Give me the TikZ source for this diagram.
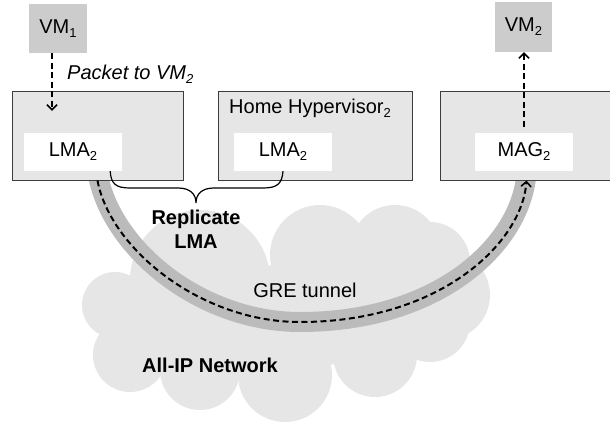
\documentclass[tikz,border=0pt]{standalone}
\usepackage{fontspec}
\setmainfont{Liberation Sans}
\usetikzlibrary{arrows.meta}
\definecolor{cloudgray}{HTML}{E6E6E6}
\definecolor{boxgray}{HTML}{E6E6E6}
\definecolor{vmgray}{HTML}{CCCCCC}
\definecolor{bandgray}{HTML}{BBBBBB}
\definecolor{bordergray}{HTML}{3C3C3C}
\newcommand\mysub[1]{\raisebox{-4pt}{\fontsize{13}{13}\selectfont #1}}
\pgfdeclarelayer{bg}
\pgfsetlayers{bg,main}
\begin{document}
\begin{tikzpicture}[x=1pt,y=-1pt,
  font=\fontsize{20}{24}\selectfont,
  hvbox/.style={draw=bordergray, line width=1pt, fill=boxgray, inner sep=0pt, minimum height=89pt},
  wbox/.style={fill=white, inner sep=0pt, minimum width=98pt, minimum height=38pt},
  vmbox/.style={fill=vmgray, inner sep=0pt},
  flow/.style={line width=2pt, dash pattern=on 6pt off 3.5pt, -{Straight Barb[length=5pt,width=10pt,line width=1.6pt]}},
  bandline/.style={line width=20pt, draw=bandgray},
  bracepath/.style={line width=1.2pt},
  lbl/.style={inner sep=0pt}]
\useasboundingbox (0,0) rectangle (610,423);
% boxes
\node[hvbox, minimum width=171pt] (hv1) at (97.5,135.5) {};
\node[hvbox, minimum width=194pt] (hv2) at (315,135.5) {};
\node[hvbox, minimum width=175pt] (hv3) at (527.5,135.5) {};
\node[wbox] (lma1) at (73,152) {LMA\mysub{2}};
\node[wbox] (lma2) at (283,152) {LMA\mysub{2}};
\node[wbox] (mag) at (524,152) {MAG\mysub{2}};
\node[vmbox, minimum width=58pt, minimum height=49pt] (vm1) at (58,28.5) {VM\mysub{1}};
\node[vmbox, minimum width=57pt, minimum height=50pt] (vm2) at (523.5,27) {VM\mysub{2}};
\node[lbl, anchor=west] (home) at (229,108) {Home Hypervisor\mysub{2}};
\node[lbl, anchor=west] (pkt) at (67,74) {\itshape Packet to VM\mysub{2}};
\coordinate (ts) at ([xshift=86pt]hv1.south west);
\coordinate (te) at ([xshift=87pt]hv3.south west);
% cloud and tunnel band behind the boxes
\begin{pgfonlayer}{bg}
\foreach \cx/\cy/\r in {115/305/33, 130/355/37, 200/370/40, 285/375/47, 375/355/42,
  430/322/40, 445/295/45, 430/262/40, 395/250/45, 320/255/50, 200/280/70}
  \fill[cloudgray] (\cx,\cy) circle (\r);
\fill[cloudgray] (115,305) -- (130,355) -- (200,370) -- (285,375) -- (375,355) -- (430,322)
  -- (445,295) -- (430,262) -- (395,250) -- (320,255) -- (200,280) -- cycle;
\draw[bandline] ([yshift=8pt]ts) .. controls (110,248) and (200,322) .. (300,322)
  .. controls (440,322) and (522,243) .. ([yshift=8pt]te);
\end{pgfonlayer}
% tunnel dashed arrow
\draw[flow] (ts) .. controls (110,248) and (200,322) .. (300,322)
  .. controls (440,322) and (522,243) .. (te);
% VM arrows
\coordinate (a1) at ([xshift=-21pt,yshift=22pt]lma1.north);
\draw[flow] (vm1.south -| a1) -- (a1);
\draw[flow] ([yshift=6pt]mag.north) -- (vm2.south -| mag.north);
% brace
\coordinate (bl) at ([xshift=-12pt]lma1.south east);
\coordinate (br) at (lma2.south);
\draw[bracepath] (bl) .. controls (111,184) and (116,188) .. (130,188) -- (178,188)
  .. controls (190,188) and (196,194) .. (196,203)
  .. controls (196,194) and (202,188) .. (214,188) -- (263,188)
  .. controls (277,188) and (282,184) .. (br);
% labels
\node[lbl, align=center, font=\fontsize{20}{24}\selectfont\bfseries] (rep) at (196,229) {Replicate\\LMA};
\node[lbl] (gre) at (305,290) {GRE tunnel};
\node[lbl, font=\fontsize{20}{24}\selectfont\bfseries] (net) at (210,365) {All-IP Network};
\end{tikzpicture}
\end{document}
